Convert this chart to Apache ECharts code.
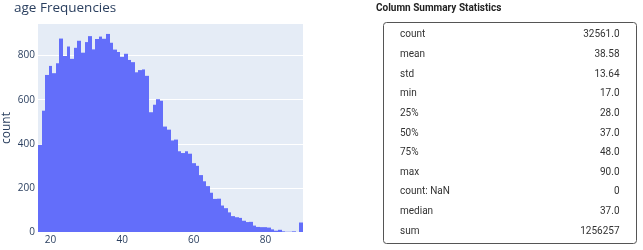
<!DOCTYPE html>
<html>
<head>
<meta charset="utf-8">
<script src="https://cdn.jsdelivr.net/npm/echarts@6/dist/echarts.min.js"></script>
<style>html,body{margin:0;padding:0;background:#fff}#c{width:643px;height:250px}</style>
</head>
<body>
<div id="c"></div>
<script>
// age values (bin centers) and counts
const ages = [17,18,19,20,21,22,23,24,25,26,27,28,29,30,31,32,33,34,35,36,37,38,39,40,41,42,43,44,45,46,47,48,49,50,51,52,53,54,55,56,57,58,59,60,61,62,63,64,65,66,67,68,69,70,71,72,73,74,75,76,77,78,79,80,81,82,83,84,85,86,87,88,89,90];
const counts = [395,550,712,753,720,765,877,798,841,785,835,867,813,861,888,828,875,886,876,898,858,827,816,794,808,780,770,724,734,737,708,543,577,602,595,478,464,415,419,366,358,366,355,312,300,258,230,208,178,150,151,120,108,89,72,67,64,51,45,46,29,23,22,22,20,12,6,10,3,1,1,3,0,43];
const xTicks = [20,40,60,80];
const yTicks = [0,200,400,600,800];
const statLabels = ['count','mean','std','min','25%','50%','75%','max','count: NaN','median','sum'];
const statValues = ['32561.0','38.58','13.64','17.0','28.0','37.0','48.0','90.0','0','37.0','1256257'];

const chart = echarts.init(document.getElementById('c'), null, {renderer:'canvas'});
const font = '"Open Sans", sans-serif';
const tfont = 'Roboto, sans-serif';

const graphics = [
  {type:'text', left: 376, top: 3, style:{text:'Column Summary Statistics', font:'bold 10px '+tfont, fill:'#222'}},
  {type:'rect', shape:{x:383.5, y:22.5, width:253, height:221, r:3}, style:{fill:'none', stroke:'#555', lineWidth:1}}
];
statLabels.forEach((lab, i) => {
  const y = 34.7 + i * 19.66;
  graphics.push({type:'text', x:400, y:y, style:{text:lab, font:'10px '+tfont, fill:'#333', align:'left', textAlign:'left', verticalAlign:'middle', textVerticalAlign:'middle'}});
  graphics.push({type:'text', x:619.5, y:y, style:{text:statValues[i], font:'10px '+tfont, fill:'#333', align:'right', textAlign:'right', verticalAlign:'middle', textVerticalAlign:'middle'}});
});

chart.setOption({
  animation:false,
  title:{text:'age Frequencies', left:14, top:1, padding:0, textStyle:{fontFamily:font, fontSize:13.5, fontWeight:'normal', color:'#2a3f5f'}},
  grid:{left:35, right:340, top:24, bottom:18, show:true, backgroundColor:'#E5ECF6', borderWidth:0},
  xAxis:{type:'value', min:16.5, max:90.5,
    axisLine:{show:false}, axisTick:{show:false}, splitLine:{show:false},
    axisLabel:{customValues:xTicks, fontFamily:font, fontSize:10, color:'#2a3f5f', margin:3}},
  yAxis:{type:'value', min:0, max:943, name:'count', nameLocation:'middle', nameGap:25,
    nameTextStyle:{fontFamily:font, fontSize:12, color:'#2a3f5f'},
    axisLine:{show:false}, axisTick:{show:false, customValues:yTicks},
    splitLine:{show:true, lineStyle:{color:'#ffffff', width:1}},
    axisLabel:{customValues:yTicks, fontFamily:font, fontSize:10, color:'#2a3f5f', margin:3}},
  graphic: graphics,
  series:[{
    type:'custom',
    data: ages.map((a,i)=>[a, counts[i]]),
    renderItem:function(params, api){
      const x = api.value(0), v = api.value(1);
      const p0 = api.coord([x-0.5, v]);
      const p1 = api.coord([x+0.5, 0]);
      const x0 = Math.round(p0[0]), x1 = Math.round(p1[0]);
      return {type:'rect', shape:{x:x0, y:p0[1], width:x1-x0, height:p1[1]-p0[1]},
        style:{fill:'#636EFA'}};
    }
  }]
});
</script>
</body>
</html>
